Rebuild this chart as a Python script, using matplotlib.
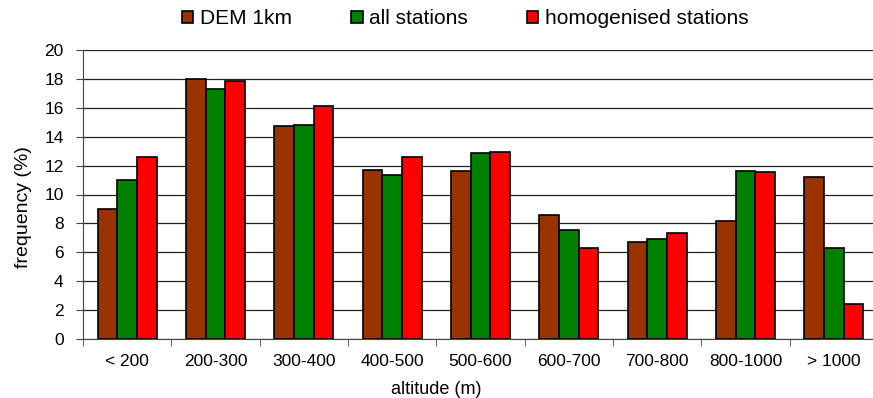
import matplotlib.pyplot as plt
import numpy as np

plt.rcParams['font.family'] = ['Liberation Sans', 'DejaVu Sans']

# altitude classes and frequencies (%)
categories = ['< 200', '200-300', '300-400', '400-500', '500-600',
              '600-700', '700-800', '800-1000', '> 1000']
dem_1km = [9.03, 18.0, 14.76, 11.69, 11.64, 8.61, 6.7, 8.18, 11.22]
all_stations = [11.0, 17.3, 14.78, 11.34, 12.9, 7.55, 6.9, 11.66, 6.28]
homog_stations = [12.6, 17.85, 16.1, 12.6, 12.96, 6.28, 7.37, 11.57, 2.45]

series = [
    ('DEM 1km', dem_1km, '#993300'),
    ('all stations', all_stations, '#008000'),
    ('homogenised stations', homog_stations, '#FF0000'),
]

fig = plt.figure(figsize=(8.73, 3.98), dpi=100)
ax = fig.add_axes([83 / 873, (398 - 339) / 398, 795 / 873, 289 / 398])

x = np.arange(len(categories))
w = 0.222
for i, (label, vals, col) in enumerate(series):
    ax.bar(x + (i - 1) * w, vals, width=w, color=col, edgecolor='black',
           linewidth=1.2, label=label, zorder=3)

ax.set_xlim(-0.5, len(categories) - 0.5)
ax.set_ylim(0, 20)
ax.set_yticks(np.arange(0, 21, 2))
ax.yaxis.grid(True, color='#222222', linewidth=0.9, zorder=0)
ax.set_axisbelow(True)

# category labels centred, ticks between categories
ax.set_xticks(x)
ax.set_xticklabels(categories, fontsize=12.5)
ax.set_xticks(np.arange(-0.5, len(categories), 1), minor=True)
ax.tick_params(axis='x', which='major', length=0, pad=11)
ax.tick_params(axis='x', which='minor', length=5, color='#444444', direction='out')
ax.tick_params(axis='y', labelsize=12.5, length=5, pad=9, color='#444444')

for s in ['top', 'right']:
    ax.spines[s].set_visible(False)
ax.spines['left'].set_color('#444444')
ax.spines['bottom'].set_color('#444444')

ax.set_ylabel('frequency (%)', fontsize=14)
ax.yaxis.set_label_coords(-0.064, 0.455)
ax.set_xlabel('altitude (m)', fontsize=13)
ax.xaxis.set_label_coords(0.444, -0.145)

fig.legend(loc='center left', bbox_to_anchor=(182 / 873, 1 - 19 / 398), ncol=3,
           frameon=False, fontsize=15, handlelength=0.55, handleheight=0.55,
           handletextpad=0.3, columnspacing=2.85, borderpad=0, borderaxespad=0)

plt.savefig('out.png', dpi=100)
